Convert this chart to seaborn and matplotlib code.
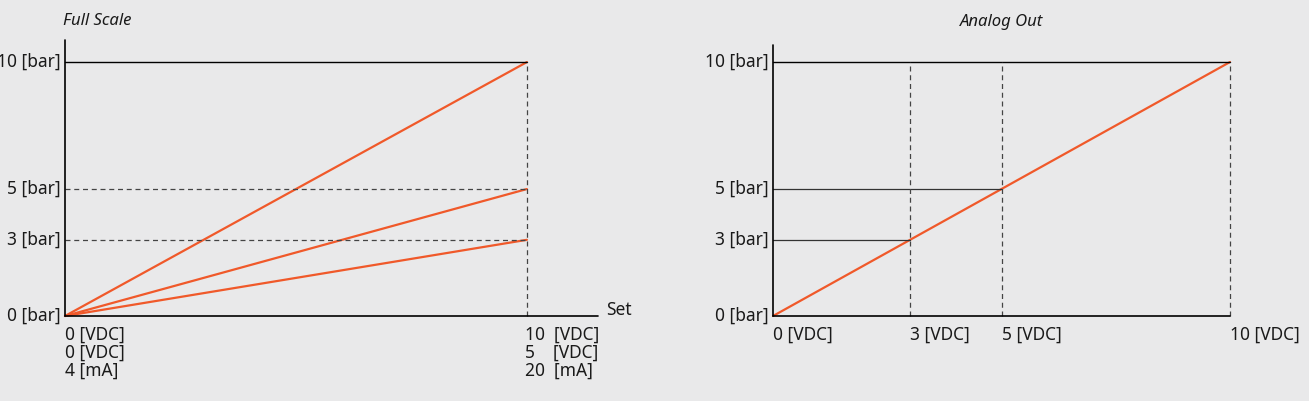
import matplotlib
matplotlib.use("Agg")
import matplotlib.pyplot as plt
import seaborn as sns

sns.set_theme(style="white")
plt.rcParams['font.family'] = ['Noto Sans', 'DejaVu Sans']

BG = '#e9e9ea'
ORANGE = '#f0592a'
TXT = '#1a1a1a'

# Full Scale: set value range 0..10, output pressure full scales
full_scales = [10, 5, 3]
y_ticks = [0, 3, 5, 10]
y_labels = ['0 [bar]', '3 [bar]', '5 [bar]', '10 [bar]']
set_labels_lo = ['0 [VDC]', '0 [VDC]', '4 [mA]']
set_labels_hi = ['10  [VDC]', '5    [VDC]', '20  [mA]']

# Analog Out
analog_x = [0, 10]
analog_y = [0, 10]
analog_marks = [3, 5]
analog_xlabels = ['0 [VDC]', '3 [VDC]', '5 [VDC]', '10 [VDC]']

fig = plt.figure(figsize=(13.09, 4.01), dpi=100, facecolor=BG)
H = 401.0
W = 1309.0

def axes_px(x0, x1, ytop, ybot=316):
    return fig.add_axes([x0 / W, (H - ybot) / H, (x1 - x0) / W, (ybot - ytop) / H])

fs = 12.5

# ---- left panel
ax1 = axes_px(65, 598, 40)
ax1.set_xlim(0, 11.54)
ax1.set_ylim(0, 10.87)
for v in full_scales:
    sns.lineplot(x=[0, 10], y=[0, v], ax=ax1, color=ORANGE, lw=1.6)
ax1.plot([0, 10], [10, 10], color='black', lw=1)
for v in [5, 3]:
    ax1.plot([0, 10], [v, v], color='#444', lw=0.9, ls=(0, (4, 3)))
ax1.plot([10, 10], [0, 10], color='#444', lw=0.9, ls=(0, (4, 3)))
ax1.plot([0, 11.54], [0, 0], color='black', lw=1.2)
ax1.plot([0, 0], [0, 10.87], color='black', lw=1.2)
ax1.text(11.72, 0.25, 'Set', fontsize=fs, va='center', ha='left', color=TXT)
ax1.text(-0.05, 11.6, 'Full Scale', fontsize=fs - 0.5, style='italic', ha='left', va='center', color=TXT)
for t, lab in zip(y_ticks, y_labels):
    ax1.text(-0.1, t, lab, fontsize=fs, ha='right', va='center', color=TXT)
ax1.text(0, -0.4, '\n'.join(set_labels_lo), fontsize=fs, ha='left', va='top', linespacing=1.0, color=TXT)
ax1.text(9.95, -0.4, '\n'.join(set_labels_hi), fontsize=fs, ha='left', va='top', linespacing=1.0, color=TXT)

# ---- right panel
ax2 = axes_px(773, 1230, 45)
ax2.set_xlim(0, 10)
ax2.set_ylim(0, 10.67)
sns.lineplot(x=analog_x, y=analog_y, ax=ax2, color=ORANGE, lw=1.6)
ax2.plot([0, 10], [10, 10], color='black', lw=1)
for v in analog_marks:
    ax2.plot([0, v], [v, v], color='#333', lw=0.9)
for v in analog_marks + [10]:
    ax2.plot([v, v], [0, 10], color='#444', lw=0.9, ls=(0, (4, 3)))
ax2.plot([0, 10], [0, 0], color='black', lw=1.2)
ax2.plot([0, 0], [0, 10.67], color='black', lw=1.2)
ax2.text(5, 11.57, 'Analog Out', fontsize=fs - 0.5, style='italic', ha='center', va='center', color=TXT)
for t, lab in zip(y_ticks, y_labels):
    ax2.text(-0.1, t, lab, fontsize=fs, ha='right', va='center', color=TXT)
for xv, lab in zip([0] + analog_marks + [10], analog_xlabels):
    ax2.text(xv, -0.4, lab, fontsize=fs, ha='left', va='top', color=TXT)

for ax in (ax1, ax2):
    ax.set_facecolor(BG)
    ax.axis('off')
    for ln in ax.lines:
        ln.set_clip_on(False)

fig.savefig('out.png', dpi=100, facecolor=BG)
